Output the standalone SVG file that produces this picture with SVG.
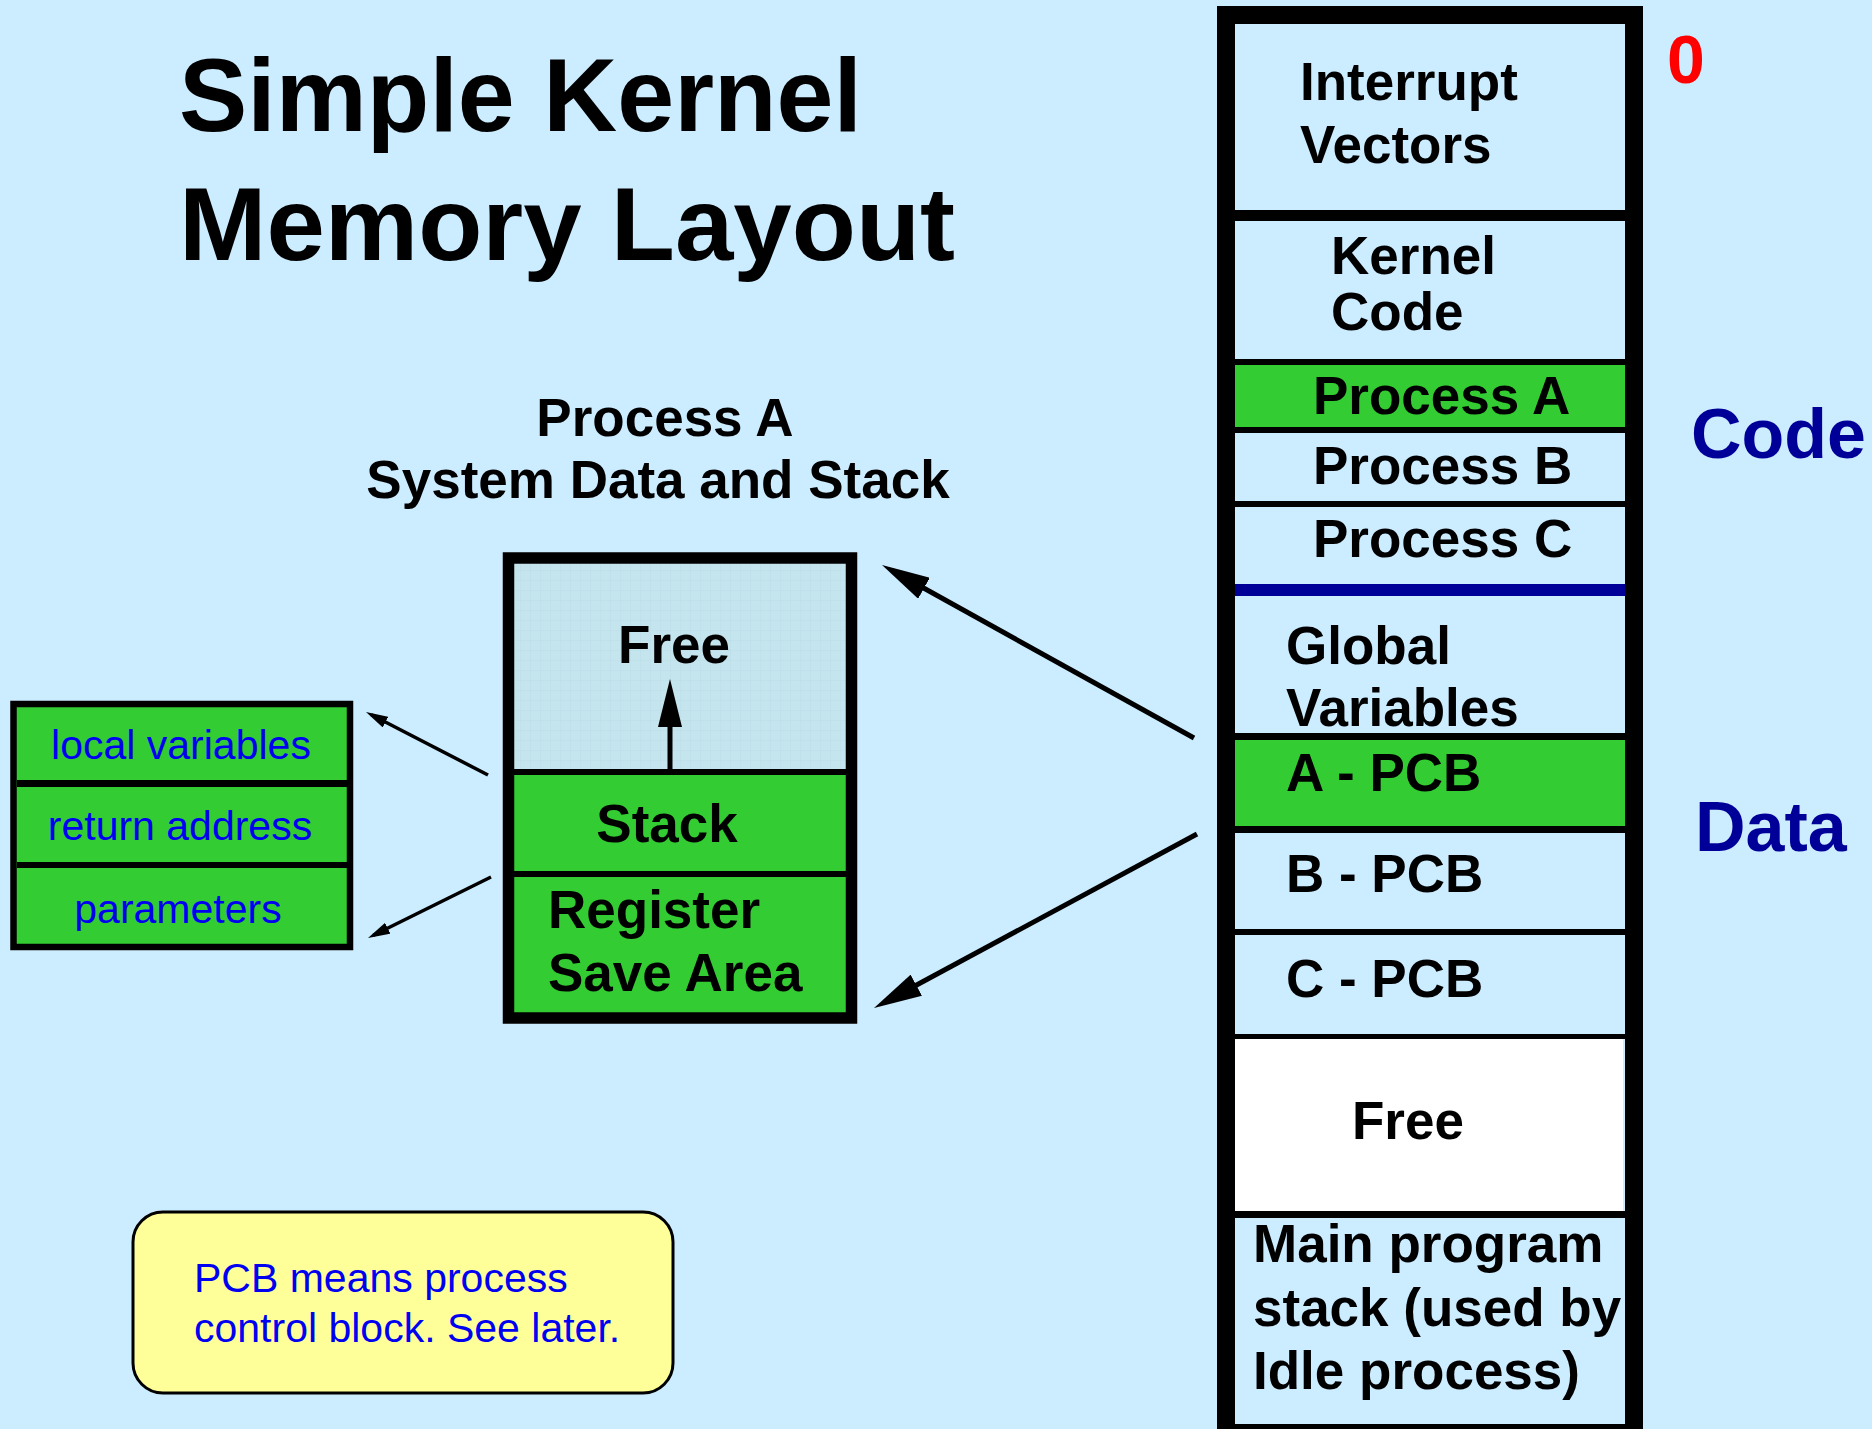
<svg xmlns="http://www.w3.org/2000/svg" width="1872" height="1429" viewBox="0 0 1872 1429">
  <style>
    .lbl { font-family: "Liberation Sans", Arial, sans-serif; font-weight: bold; font-size: 53px; fill: #000000; }
    .blue { font-family: "Liberation Sans", Arial, sans-serif; font-size: 41px; fill: #0000f0; }
    .side { font-family: "Liberation Sans", Arial, sans-serif; font-weight: bold; font-size: 70px; fill: #000099; }
    .title { font-family: "Liberation Sans", Arial, sans-serif; font-weight: bold; font-size: 104px; fill: #000000; }
    .green { fill: #33cc33; }
    .bg { fill: #ccecff; }
    .div { fill: #000000; }
    .conn { stroke: #000000; fill: none; stroke-linecap: butt; }
  </style>
  <defs>
    <pattern id="grid" width="10" height="10" patternUnits="userSpaceOnUse">
      <rect width="10" height="10" fill="#c4e4ee"/>
      <path d="M10 0 L0 0 0 10" fill="none" stroke="#b6d9e4" stroke-width="0.6"/>
    </pattern>
    <marker id="bigHead" viewBox="0 0 48 24" refX="36" refY="12" markerWidth="48" markerHeight="24" markerUnits="userSpaceOnUse" orient="auto">
      <path d="M0 0 L48 12 L0 24 Z" fill="#000000"/>
    </marker>
    <marker id="smallHead" viewBox="0 0 22 12" refX="16" refY="6" markerWidth="22" markerHeight="12" markerUnits="userSpaceOnUse" orient="auto">
      <path d="M0 0 L22 6 L0 12 Z" fill="#000000"/>
    </marker>
  </defs>

  <rect class="bg" x="0" y="0" width="1872" height="1429"/>

  <g id="title">
    <text class="title" x="179" y="131" textLength="683" lengthAdjust="spacingAndGlyphs">Simple Kernel</text>
    <text class="title" x="179" y="260" textLength="776" lengthAdjust="spacingAndGlyphs">Memory Layout</text>
  </g>

  <g id="subtitle">
    <text class="lbl" x="665" y="436" text-anchor="middle">Process A</text>
    <text class="lbl" x="658" y="498" text-anchor="middle">System Data and Stack</text>
  </g>

  <g id="memory-map">
    <rect class="bg" x="1235" y="24" width="390" height="1391"/>
    <rect class="green" x="1235" y="365" width="390" height="62"/>
    <rect class="green" x="1235" y="740" width="390" height="86"/>
    <rect fill="#ffffff" x="1235" y="1039" width="388" height="172"/>
    <rect class="div" x="1235" y="210" width="390" height="11"/>
    <rect class="div" x="1235" y="359" width="390" height="6"/>
    <rect class="div" x="1235" y="427" width="390" height="6"/>
    <rect class="div" x="1235" y="501" width="390" height="6"/>
    <rect fill="#000099" x="1235" y="584" width="390" height="12"/>
    <rect class="div" x="1235" y="733" width="390" height="7"/>
    <rect class="div" x="1235" y="826" width="390" height="7"/>
    <rect class="div" x="1235" y="929" width="390" height="6"/>
    <rect class="div" x="1235" y="1034" width="390" height="5"/>
    <rect class="div" x="1235" y="1211" width="390" height="7"/>
    <rect x="1226" y="15" width="408" height="1418" fill="none" stroke="#000000" stroke-width="18"/>
  </g>

  <g id="interrupt-vectors">
    <text class="lbl" x="1300" y="100">Interrupt</text>
    <text class="lbl" x="1300" y="163">Vectors</text>
  </g>
  <g id="kernel-code">
    <text class="lbl" x="1331" y="274">Kernel</text>
    <text class="lbl" x="1331" y="330">Code</text>
  </g>
  <g id="process-a-code"><text class="lbl" x="1313" y="414">Process A</text></g>
  <g id="process-b-code"><text class="lbl" x="1313" y="484">Process B</text></g>
  <g id="process-c-code"><text class="lbl" x="1313" y="557">Process C</text></g>
  <g id="global-variables">
    <text class="lbl" x="1286" y="664">Global</text>
    <text class="lbl" x="1286" y="726">Variables</text>
  </g>
  <g id="a-pcb"><text class="lbl" x="1286" y="791">A - PCB</text></g>
  <g id="b-pcb"><text class="lbl" x="1286" y="892">B - PCB</text></g>
  <g id="c-pcb"><text class="lbl" x="1286" y="997">C - PCB</text></g>
  <g id="free-mem"><text class="lbl" x="1352" y="1139">Free</text></g>
  <g id="main-stack">
    <text class="lbl" x="1253" y="1262">Main program</text>
    <text class="lbl" x="1253" y="1326">stack (used by</text>
    <text class="lbl" x="1253" y="1389">Idle process)</text>
  </g>

  <g id="labels-right">
    <text x="1667" y="83" font-family="Liberation Sans, Arial, sans-serif" font-weight="bold" font-size="68" fill="#ff0000">0</text>
    <text class="side" x="1691" y="458">Code</text>
    <text class="side" x="1695" y="851">Data</text>
  </g>

  <g id="process-a-stack-box">
    <rect x="514" y="564" width="332" height="205" fill="url(#grid)"/>
    <rect class="div" x="514" y="769" width="332" height="6"/>
    <rect class="green" x="514" y="775" width="332" height="96"/>
    <rect class="div" x="514" y="871" width="332" height="6"/>
    <rect class="green" x="514" y="877" width="332" height="136"/>
    <rect x="508.5" y="558" width="343" height="460" fill="none" stroke="#000000" stroke-width="11.5"/>
    <text class="lbl" x="674" y="663" text-anchor="middle">Free</text>
    <line class="conn" x1="670" y1="769" x2="670" y2="691" stroke-width="5" marker-end="url(#bigHead)"/>
    <text class="lbl" x="667" y="842" text-anchor="middle">Stack</text>
    <text class="lbl" x="548" y="928">Register</text>
    <text class="lbl" x="548" y="991">Save Area</text>
  </g>

  <g id="stack-frame-box">
    <rect class="green" x="13.5" y="704" width="336.5" height="243" stroke="#000000" stroke-width="6.5"/>
    <rect class="div" x="17" y="780" width="330" height="7"/>
    <rect class="div" x="17" y="862" width="330" height="6"/>
    <text class="blue" x="181" y="759" text-anchor="middle">local variables</text>
    <text class="blue" x="180" y="840" text-anchor="middle">return address</text>
    <text class="blue" x="178" y="923" text-anchor="middle">parameters</text>
  </g>

  <g id="note">
    <rect x="133" y="1212" width="540" height="181" rx="30" ry="30" fill="#ffff99" stroke="#000000" stroke-width="3"/>
    <text class="blue" x="194" y="1292">PCB means process</text>
    <text class="blue" x="194" y="1342">control block. See later.</text>
  </g>

  <g id="connectors">
    <line class="conn" x1="1194" y1="738" x2="892.5" y2="570.8" stroke-width="5" marker-end="url(#bigHead)"/>
    <line class="conn" x1="1197" y1="834" x2="884.6" y2="1002.3" stroke-width="5" marker-end="url(#bigHead)"/>
    <line class="conn" x1="488" y1="775" x2="371.3" y2="714.8" stroke-width="3.5" marker-end="url(#smallHead)"/>
    <line class="conn" x1="491" y1="877" x2="373.4" y2="935.3" stroke-width="3.5" marker-end="url(#smallHead)"/>
  </g>
</svg>
